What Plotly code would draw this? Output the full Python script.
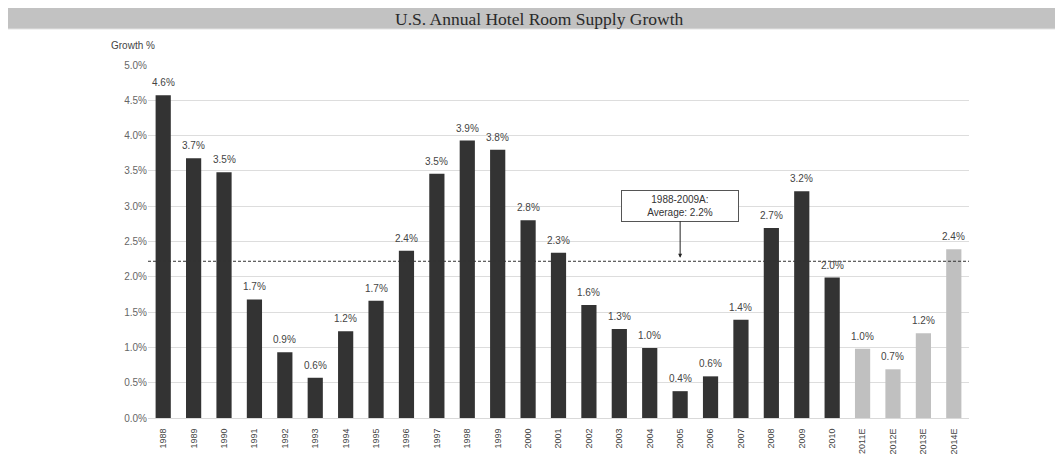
import plotly.graph_objects as go

years = ["1988","1989","1990","1991","1992","1993","1994","1995","1996","1997","1998","1999",
         "2000","2001","2002","2003","2004","2005","2006","2007","2008","2009","2010",
         "2011E","2012E","2013E","2014E"]
growth = [4.57,3.68,3.48,1.68,0.93,0.57,1.23,1.66,2.37,3.46,3.93,3.80,
          2.80,2.34,1.60,1.26,0.99,0.38,0.59,1.39,2.69,3.21,1.99,
          0.98,0.69,1.20,2.39]
is_estimate = [y.endswith("E") for y in years]
average = 2.22
avg_label = "1988-2009A:<br>Average: 2.2%"
arrow_cat = "2005"

colors = ["#c0c0c0" if e else "#333333" for e in is_estimate]
FONT = "Liberation Sans, Arial"

fig = go.Figure()
fig.add_trace(go.Bar(
    x=years, y=growth, marker=dict(color=colors, line=dict(width=0)),
    width=0.5, hoverinfo="x+y",
))

# value labels above bars
for i, v in enumerate(growth):
    fig.add_annotation(x=i, y=v, xref="x", yref="y", text=f"{v:.1f}%", showarrow=False,
                       yanchor="bottom", yshift=5,
                       font=dict(family=FONT, size=10, color="#444444"))

fig.add_shape(type="line", xref="paper", x0=0, x1=1, yref="y", y0=average, y1=average,
              line=dict(color="#333333", width=1, dash="3px,2px"))

# title banner
fig.add_shape(type="rect", xref="paper", yref="paper", x0=-0.172, x1=1.12, y0=1.102, y1=1.17,
              fillcolor="#c2c2c2", line=dict(width=1, color="#e2e2e2"), layer="below")
fig.add_annotation(xref="paper", yref="paper", x=0.477, y=1.1303, text="U.S. Annual Hotel Room Supply Growth",
                   showarrow=False, font=dict(family="Liberation Serif, Times New Roman", size=17.5, color="#2a2a2a"),
                   xanchor="center", yanchor="middle")
fig.add_annotation(xref="paper", yref="paper", x=-0.048, y=1.055, text="Growth %", showarrow=False,
                   font=dict(family=FONT, size=10, color="#444444"), xanchor="left", yanchor="middle")

fig.add_annotation(x=years.index(arrow_cat), y=average + 0.05, xref="x", yref="y", text=avg_label,
                   showarrow=True, arrowhead=2, arrowsize=0.8, arrowwidth=1, arrowcolor="#222222",
                   ax=0, ay=-52, width=112, height=26, bordercolor="#555555", borderwidth=1, borderpad=2,
                   bgcolor="white", font=dict(family=FONT, size=10, color="#333333"), align="center")

fig.update_layout(
    width=1055, height=455, margin=dict(l=140, r=94, t=57, b=45, autoexpand=False),
    plot_bgcolor="white", paper_bgcolor="white", showlegend=False,
    bargap=0.5,
    xaxis=dict(type="category", tickangle=-90, range=[-0.5, len(years) - 0.5], automargin=False,
               tickfont=dict(family=FONT, size=9, color="#444444"), ticklabelstandoff=6,
               showgrid=False, showline=True, linecolor="#d9d9d9", ticks=""),
    yaxis=dict(range=[0, 5], dtick=0.5, tickformat=".1f", ticksuffix="%", automargin=False,
               tickfont=dict(family=FONT, size=10, color="#666666"),
               showgrid=True, gridcolor="#dddddd", gridwidth=1, zeroline=False, ticklen=0, ticks=""),
)

fig.write_html("out.html")
